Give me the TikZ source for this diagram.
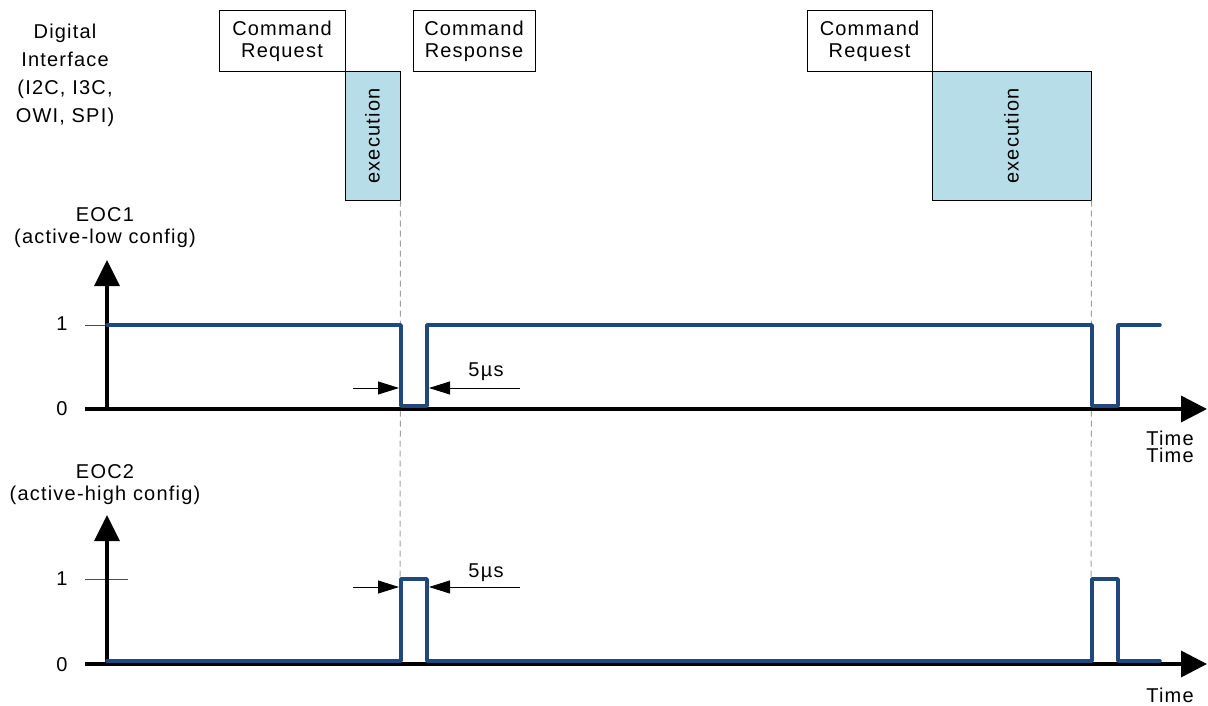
\documentclass[tikz,border=0pt]{standalone}
\usepackage{fontspec}
\setmainfont{Liberation Sans}[LetterSpace=6]
\usetikzlibrary{arrows.meta}
\definecolor{sig}{RGB}{31,73,125}
\definecolor{exec}{RGB}{183,221,232}
\definecolor{guide}{RGB}{160,160,160}
\begin{document}
\begin{tikzpicture}[x=1pt,y=-1pt,
  every node/.style={font=\fontsize{20}{22}\selectfont},
  cmdbox/.style={draw=black,line width=1pt,inner sep=0pt,align=center,minimum width=#1},
  execbox/.style={draw=black,line width=1pt,fill=exec,inner sep=0pt},
  lbl/.style={inner sep=0pt,align=center},
  axis/.style={line width=3.5pt,-{Triangle[length=26pt,width=26pt]}},
  axisv/.style={line width=3.5pt,-{Triangle[length=26pt,width=25pt]}},
  wave/.style={sig,line width=3.5pt,line join=round,line cap=round},
  tick/.style={line width=0.8pt,black!70},
  guideline/.style={guide,line width=1pt,dash pattern=on 6pt off 4pt},
  dim/.style={line width=0.8pt,-{Triangle[length=21pt,width=13pt]}}
]
\useasboundingbox (0,0) rectangle (1208,706);

% top row
\node[lbl,font=\fontsize{20}{28}\selectfont] (di) at (65,75) {Digital\\Interface\\(I2C, I3C,\\OWI, SPI)};
\node[cmdbox=126pt,minimum height=61pt] (req1) at (282,41.5) {Command\\Request};
\node[execbox,minimum width=55pt,minimum height=128pt] (exe1) at (372.5,136) {};
\node[rotate=90,inner sep=0pt] (ex1t) at (exe1.center) {execution};
\node[cmdbox=122pt,minimum height=61pt] (resp) at (474,41.5) {Command\\Response};
\node[cmdbox=125pt,minimum height=61pt] (req2) at (869.5,41.5) {Command\\Request};
\node[execbox,minimum width=159pt,minimum height=128pt] (exe2) at (1011.5,136) {};
\node[rotate=90,inner sep=0pt] (ex2t) at (exe2.center) {execution};

% guide lines
\coordinate (g1) at (400,664);
\coordinate (g2) at (1091,664);
\draw[guideline] (exe1.south east) -- (g1);
\draw[guideline] (exe2.south east) -- (g2);

% ---------------- EOC1 ----------------
\node[lbl] (eoc1) at (105,228) {EOC1\\(active-low config)};
\node[lbl] (one1) at (62,324) {1};
\node[lbl] (zero1) at (62,409) {0};
\coordinate (o1) at (107,409);
\coordinate (x1s) at (85,409);
\coordinate (x1e) at (1207,409);
\coordinate (y1e) at (107,260);
\coordinate (t1s) at (85,325);
\draw[tick] (t1s) -- (o1 |- t1s);
\draw[axis] (x1s) -- (x1e);
\draw[axisv] (o1) -- (y1e);
\draw[wave] (107,325) -- (401,325) -- (401,406) -- (427,406) -- (427,325)
  -- (1092,325) -- (1092,406) -- (1118,406) -- (1118,325) -- (1160,325);
\node[lbl] (t1a) at (1170,438) {Time};
\node[lbl] (t1b) at (1170,455) {Time};
\coordinate (d1a) at (353,388);
\coordinate (d1b) at (399,388);
\coordinate (d1c) at (520,388);
\coordinate (d1d) at (429,388);
\draw[dim] (d1a) -- (d1b);
\draw[dim] (d1c) -- (d1d);
\node[lbl] (us1) at (486,372) {5µs};

% ---------------- EOC2 ----------------
\node[lbl] (eoc2) at (105,485) {EOC2\\(active-high config)};
\node[lbl] (one2) at (62,579) {1};
\node[lbl] (zero2) at (62,665) {0};
\coordinate (o2) at (107,664);
\coordinate (x2s) at (85,664);
\coordinate (x2e) at (1207,664);
\coordinate (y2e) at (107,515);
\coordinate (t2s) at (85,579);
\coordinate (t2e) at (128,579);
\draw[tick] (t2s) -- (t2e);
\draw[axis] (x2s) -- (x2e);
\draw[axisv] (o2) -- (y2e);
\draw[wave] (107,661) -- (401,661) -- (401,579) -- (427,579) -- (427,661)
  -- (1092,661) -- (1092,579) -- (1118,579) -- (1118,661) -- (1160,661);
\node[lbl] (t2) at (1170,695) {Time};
\coordinate (d2a) at (353,587);
\coordinate (d2b) at (399,587);
\coordinate (d2c) at (520,587);
\coordinate (d2d) at (429,587);
\draw[dim] (d2a) -- (d2b);
\draw[dim] (d2c) -- (d2d);
\node[lbl] (us2) at (486,573) {5µs};
\end{tikzpicture}
\end{document}
